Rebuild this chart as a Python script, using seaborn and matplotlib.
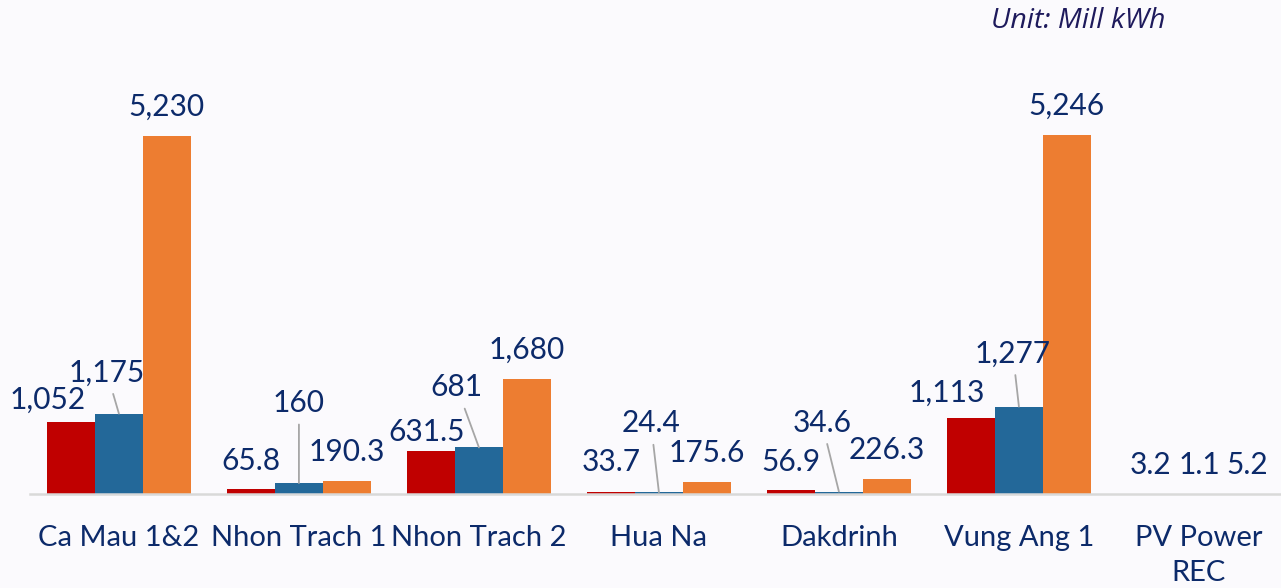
import matplotlib
matplotlib.use("Agg")
import matplotlib.pyplot as plt
import seaborn as sns
import pandas as pd

# plant names and the three series (Mill kWh)
plants = ["Ca Mau 1&2", "Nhon Trach 1", "Nhon Trach 2", "Hua Na",
          "Dakdrinh", "Vung Ang 1", "PV Power\nREC"]
series_names = ["Series 1", "Series 2", "Series 3"]
series_1 = [1052, 65.8, 631.5, 33.7, 56.9, 1113, 3.2]
series_2 = [1175, 160, 681, 24.4, 34.6, 1277, 1.1]
series_3 = [5230, 190.3, 1680, 175.6, 226.3, 5246, 5.2]

colors = ["#C00000", "#236899", "#ED7D31"]
navy = "#0C2A6A"
bg = "#FBFAFD"

# label placement (pixels from the bar top) and whether a leader line is drawn
label_offsets = [
    [(-23, 22, False), (0, 28, False), (-4, 19, False), (0, 30, False),
     (0, 28, False), (-24, 25, False), (0, 29, False)],
    [(-12, 41, True), (0, 80, True), (-22, 60, True), (-8, 69, True),
     (-17, 69, True), (-6, 53, True), (0, 29, False)],
    [(0, 29, False)] * 7,
]

if __name__ == "__main__":
    sns.set_theme(style="white")
    plt.rcParams["font.family"] = ["Lato", "DejaVu Sans"]

    rows = []
    for name, vals in zip(series_names, [series_1, series_2, series_3]):
        for p, v in zip(plants, vals):
            rows.append({"plant": p, "series": name, "value": v})
    df = pd.DataFrame(rows)

    fig = plt.figure(figsize=(12.81, 5.88), dpi=100, facecolor=bg)
    ax = fig.add_axes([30 / 1281, 94 / 588, 1 - 30 / 1281, 434 / 588])
    ax.set_facecolor(bg)

    sns.barplot(data=df, x="plant", y="value", hue="series", order=plants,
                hue_order=series_names, palette=colors, saturation=1,
                width=0.8, linewidth=0, legend=False, ax=ax)

    ax.set_xlim(-0.494, 6.456)
    ax.set_ylim(0, 6345)

    for k, cont in enumerate(ax.containers):
        for j, bar in enumerate(cont.patches):
            v = bar.get_height()
            txt = f"{v:,.0f}" if float(v).is_integer() else f"{v:,.1f}"
            dx, dy, leader = label_offsets[k][j]
            xc = bar.get_x() + bar.get_width() / 2
            arrow = None
            if leader:
                arrow = dict(arrowstyle="-", color="#A6A6A6", lw=1.3,
                             shrinkA=3, shrinkB=0)
            ax.annotate(txt, xy=(xc, v), xytext=(dx, dy),
                        textcoords="offset pixels", ha="center", va="center",
                        fontsize=21.5, color=navy, arrowprops=arrow)

    for s in ["top", "right", "left"]:
        ax.spines[s].set_visible(False)
    ax.spines["bottom"].set_color("#D9D9D9")
    ax.spines["bottom"].set_linewidth(1.8)
    ax.set_yticks([])
    ax.set_xlabel("")
    ax.set_ylabel("")
    ax.tick_params(axis="x", length=0, pad=22, labelsize=21, labelcolor=navy)
    for lab in ax.get_xticklabels():
        lab.set_linespacing(1.45)

    fig.text(1165 / 1281, 1 - 21 / 588, "Unit: Mill kWh", ha="right",
             va="center", fontsize=20.5, style="italic", color="#1E1A5C",
             family=["Open Sans", "DejaVu Sans"])

    fig.savefig("out.png", dpi=100, facecolor=bg)
